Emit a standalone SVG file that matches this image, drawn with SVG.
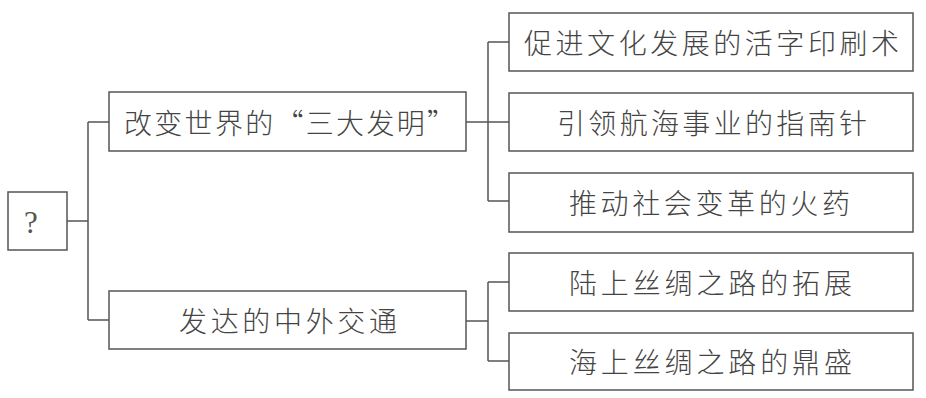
<svg xmlns="http://www.w3.org/2000/svg" width="926" height="398" viewBox="0 0 926 398">
<style>
.box{fill:#fff;stroke:#555;stroke-width:1.5}
.t{font-family:"Noto Sans CJK SC","Noto Sans CJK JP",sans-serif;font-size:28px;font-weight:300;fill:#444;dominant-baseline:central}
.q{font-family:"Liberation Serif",serif;font-size:31px;fill:#555;text-anchor:middle;dominant-baseline:central}
.c{fill:none;stroke:#555;stroke-width:1.5}
</style>
<rect width="926" height="398" fill="#fff"/>
<g id="connectors">
<path class="c" d="M67 221H88M88 122V320M88 122H109M88 320H109"/>
<path class="c" d="M466 122H488M488 42V201M488 42H509M488 122H509M488 201H509"/>
<path class="c" d="M466 321H488M488 282V361M488 282H509M488 361H509"/>
</g>
<g id="root"><rect class="box" x="8" y="192" width="59" height="58"/><text class="q" x="31" y="222">?</text></g>
<g id="n1"><rect class="box" x="109" y="92" width="357" height="59"/><text class="t" x="124" y="122" textLength="331" lengthAdjust="spacing">改变世界的“三大发明”</text></g>
<g id="n2"><rect class="box" x="109" y="291" width="357" height="58"/><text class="t" x="179" y="320" textLength="218" lengthAdjust="spacing">发达的中外交通</text></g>
<g id="a1"><rect class="box" x="509" y="13" width="404" height="58"/><text class="t" x="524" y="42" textLength="375" lengthAdjust="spacing">促进文化发展的活字印刷术</text></g>
<g id="a2"><rect class="box" x="509" y="93" width="404" height="58"/><text class="t" x="557" y="122" textLength="310" lengthAdjust="spacing">引领航海事业的指南针</text></g>
<g id="a3"><rect class="box" x="509" y="173" width="404" height="59"/><text class="t" x="569" y="202" textLength="281" lengthAdjust="spacing">推动社会变革的火药</text></g>
<g id="b1"><rect class="box" x="509" y="253" width="404" height="58"/><text class="t" x="569" y="282" textLength="283" lengthAdjust="spacing">陆上丝绸之路的拓展</text></g>
<g id="b2"><rect class="box" x="509" y="333" width="404" height="57"/><text class="t" x="569" y="361" textLength="283" lengthAdjust="spacing">海上丝绸之路的鼎盛</text></g>
</svg>
